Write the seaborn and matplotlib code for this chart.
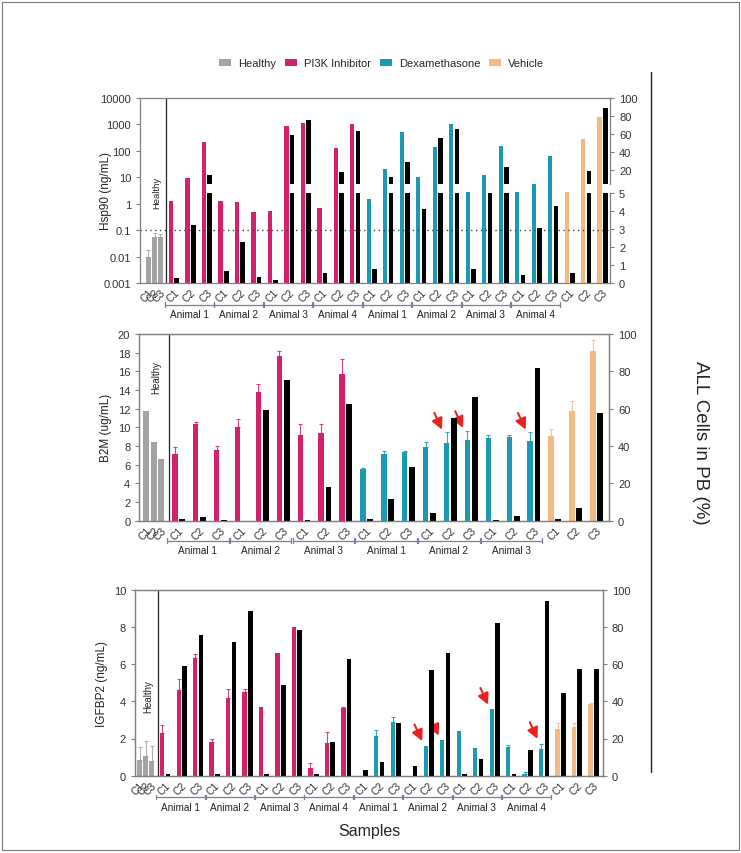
import matplotlib
matplotlib.use("Agg")
import matplotlib.pyplot as plt
from matplotlib.patches import Patch, Rectangle
from matplotlib.lines import Line2D
import numpy as np
import seaborn as sns

sns.set_theme(style="ticks")
plt.rcParams['font.family'] = ['Liberation Sans', 'DejaVu Sans']

# ---------------- data ----------------
treatments = ['Healthy', 'PI3K Inhibitor', 'Dexamethasone', 'Vehicle']
sample_labels = ['C1', 'C2', 'C3']

# Hsp90 (ng/mL), log axis; black bars = ALL cells in PB (%)
hsp_healthy = [0.010, 0.055, 0.055]
hsp_healthy_err = [0.008, 0.022, 0.015]
hsp_pi3k = [1.25, 9.5, 218, 1.32, 1.2, 0.48, 0.54, 870, 1100, 0.69, 133, 1070]
hsp_dex = [1.5, 20, 500, 10.7, 137, 1050, 2.75, 12.3, 155, 2.8, 5.6, 66]
hsp_veh = [2.8, 283, 1860]
hsp_all = [0.28, 3.2, 15, 0.67, 2.3, 0.35, 0.17, 59.6, 76, 0.57, 18.5, 63.6,
           0.76, 12.7, 29, 4.1, 55.3, 66, 0.76, 5.0, 23.6, 0.46, 3.07, 4.3,
           0.57, 19.6, 88.7]

# B2M (ug/mL)
b2m_healthy = [11.8, 8.46, 6.6]
b2m_pi3k = [7.18, 10.4, 7.6, 10.0, 13.8, 17.6, 9.18, 9.4, 15.75]
b2m_pi3k_err = [0.68, 0.2, 0.36, 0.86, 0.8, 0.6, 1.22, 1.0, 1.55]
b2m_dex = [5.5, 7.1, 7.39, 7.93, 8.29, 8.68, 8.82, 8.96, 8.5]
b2m_dex_err = [0.1, 0.33, 0.05, 0.47, 1.17, 0.96, 0.36, 0.24, 0.96]
b2m_veh = [9.1, 11.7, 18.2]
b2m_veh_err = [0.7, 1.1, 1.2]
b2m_all = [0.7, 2.1, 0.5, 0, 59.3, 75.5, 0.5, 17.9, 62.7,
           0.7, 11.6, 28.6, 4.1, 55.2, 66, 0.2, 2.5, 82,
           0.7, 6.6, 57.7]
b2m_arrows = [13, 14, 17]

# IGFBP2 (ng/mL)
igf_healthy = [0.86, 1.04, 0.77]
igf_healthy_err = [0.66, 0.81, 0.83]
igf_pi3k = [2.29, 4.59, 6.34, 1.79, 4.16, 4.52, 3.71, 6.61, 8.0, 0.41, 1.74, 3.62]
igf_pi3k_err = [0.41, 0.61, 0.22, 0.21, 0.5, 0.12, 0, 0, 0, 0.25, 0.59, 0.07]
igf_dex = [0, 2.11, 2.9, 0, 1.61, 1.91, 2.41, 1.48, 3.57, 1.55, 0.09, 1.46]
igf_dex_err = [0, 0.35, 0.24, 0, 0, 0, 0, 0, 0, 0.09, 0.09, 0.27]
igf_veh = [2.5, 2.64, 3.88]
igf_veh_err = [0.36, 0.22, 0.05]
igf_all = [0.7, 59, 75.5, 0.7, 72, 88.6, 0.9, 48.8, 78.2, 0.7, 17.9, 62.7,
           2.9, 7.5, 28.6, 5.4, 57, 66, 1.1, 8.9, 82, 1.1, 13.6, 94,
           44.6, 57.5, 57.5]
igf_arrows = [16, 17, 20, 23]

GREY = '#a3a3a6'
PINK = '#d3216c'
TEAL = '#1b9bb1'
PEACH = '#f2bb85'
BRACKET = '#7b7ba6'
SPINE = '#808080'
colors = [GREY, PINK, TEAL, PEACH]

HEALTHY_X = np.array([-1.55, -1.18, -0.82])
COL_OFF, BLK_OFF = -0.18, 0.17


def bars(ax, xs, ys, color, width):
    sns.barplot(x=np.asarray(xs, float), y=np.asarray(ys, float), native_scale=True,
                orient='x', width=width, color=color, saturation=1,
                errorbar=None, linewidth=0, ax=ax)


def errs(ax, xs, ys, es, color):
    xs, ys, es = np.asarray(xs, float), np.asarray(ys, float), np.asarray(es, float)
    m = es > 0
    if m.any():
        ax.errorbar(xs[m], ys[m], yerr=[np.zeros(m.sum()), es[m]], fmt='none',
                    ecolor=color, elinewidth=0.8, capsize=1.5, capthick=0.8, alpha=0.85)


def style(ax):
    for s in ax.spines.values():
        s.set_color(SPINE)
        s.set_linewidth(0.9)
    ax.tick_params(axis='y', colors=SPINE, labelcolor='#333333', labelsize=8,
                   length=3, width=0.8, direction='out')


def panel(ax, healthy, healthy_err, pi3k, pi3k_err, dex, dex_err, veh, veh_err,
          n_animals, xlim, healthy_y, healthy_fs, br_y, txt_y):
    n = 3 * n_animals
    xp = np.arange(n) + COL_OFF
    xd = np.arange(n, 2 * n) + COL_OFF
    xv = np.arange(2 * n, 2 * n + 3) + COL_OFF
    bars(ax, HEALTHY_X, healthy, GREY, 0.8)
    bars(ax, xp, pi3k, PINK, 0.26)
    bars(ax, xd, dex, TEAL, 0.26)
    bars(ax, xv, veh, PEACH, 0.26)
    if healthy_err is not None:
        errs(ax, HEALTHY_X, healthy, healthy_err, GREY)
    if pi3k_err is not None:
        errs(ax, xp, pi3k, pi3k_err, PINK)
        errs(ax, xd, dex, dex_err, TEAL)
        errs(ax, xv, veh, veh_err, PEACH)
    ax.axvline(-0.46, color='#222222', lw=0.9)
    ax.text(-1.05, healthy_y, 'Healthy', rotation=90, ha='center', va='center',
            fontsize=healthy_fs, color='#222222', transform=ax.get_xaxis_transform())
    ticks = list(HEALTHY_X) + list(np.arange(2 * n + 3))
    ax.set_xticks(ticks)
    ax.set_xticklabels(sample_labels * (len(ticks) // 3), rotation=45, ha='right',
                       rotation_mode='anchor', fontsize=7.5, color='#333333')
    ax.tick_params(axis='x', length=0, pad=3)
    ax.set_xlim(*xlim)
    ax.set_xlabel('')
    tr = ax.get_xaxis_transform()
    for g in range(2):
        for k in range(n_animals):
            s = g * n + 3 * k - 0.55
            e = g * n + 3 * k + 2.4
            ax.plot([s, e], [br_y, br_y], color=BRACKET, lw=0.9, transform=tr, clip_on=False)
            for xx in (s, e):
                ax.plot([xx, xx], [br_y - 0.012, br_y + 0.012], color=BRACKET, lw=0.9,
                        transform=tr, clip_on=False)
            ax.text((s + e) / 2, txt_y, f'Animal {k + 1}', ha='center', va='center',
                    fontsize=7.2, color='#222222', transform=tr)


def arrows(ax, idx, values, errors, n, dy):
    vals = np.asarray(values, float)
    ers = np.asarray(errors, float)
    for i in idx:
        j = i - n
        top = vals[j] + ers[j]
        ax.annotate('', xy=(i + COL_OFF - 0.22, top + dy), xytext=(-5.5, 12),
                    textcoords='offset points',
                    arrowprops=dict(arrowstyle='-|>,head_length=0.55,head_width=0.28',
                                    color='#e8231f', lw=1.5, shrinkA=0, shrinkB=0))


fig = plt.figure(figsize=(7.41, 8.54), dpi=100)

# ---------- top panel: Hsp90 ----------
rect_top = [140 / 741, 1 - 284 / 854, 470 / 741, 185 / 854]
ax1 = fig.add_axes(rect_top)
ax1.set_yscale('log')
ax1.set_ylim(0.001, 10000)
panel(ax1, hsp_healthy, hsp_healthy_err, hsp_pi3k, None, hsp_dex, None, hsp_veh, None,
      4, (-2.06, 26.45), 0.49, 6.8, -0.117, -0.17)
ax1.set_ylim(0.001, 10000)
ax1.yaxis.set_major_locator(matplotlib.ticker.FixedLocator([10.0 ** p for p in range(-3, 5)]))
ax1.yaxis.set_minor_locator(matplotlib.ticker.NullLocator())
ax1.set_yticklabels(['0.001', '0.01', '0.1', '1', '10', '100', '1000', '10000'])
ax1.axhline(0.1, ls=(0, (1, 2.5)), color='#444444', lw=1)
style(ax1)
ax1.spines['right'].set_visible(False)
ax1.set_ylabel('Hsp90 (ng/mL)', fontsize=8.5, color='#222222')
ax1.yaxis.set_label_coords(-0.06, 0.5)

rect_lo = [140 / 741, 1 - 284 / 854, 470 / 741, 90 / 854]
rect_hi = [140 / 741, 1 - 185 / 854, 470 / 741, 86 / 854]
for rect, lim, tks in [(rect_lo, (0, 5), [0, 1, 2, 3, 4, 5]),
                       (rect_hi, (5, 100), [20, 40, 60, 80, 100])]:
    axb = fig.add_axes(rect, sharex=ax1)
    axb.patch.set_alpha(0)
    bars(axb, np.arange(27) + BLK_OFF, hsp_all, 'black', 0.28)
    axb.set_ylim(*lim)
    axb.set_yticks(tks)
    axb.yaxis.tick_right()
    style(axb)
    for sp in ['left', 'top', 'bottom']:
        axb.spines[sp].set_visible(False)
    axb.tick_params(axis='x', bottom=False, labelbottom=False)
    axb.set_ylabel('')
    axb.set_xlabel('')
ax1.set_xlim(-2.06, 26.45)

# ---------- middle panel: B2M ----------
ax2 = fig.add_axes([139.3 / 741, 1 - 521.7 / 854, 469.7 / 741, 186.7 / 854])
panel(ax2, b2m_healthy, None, b2m_pi3k, b2m_pi3k_err, b2m_dex, b2m_dex_err,
      b2m_veh, b2m_veh_err, 3, (-1.88, 20.59), 0.77, 7, -0.107, -0.155)
ax2.set_ylim(0, 20)
ax2.set_yticks(range(0, 21, 2))
style(ax2)
ax2.set_ylabel('B2M (ug/mL)', fontsize=8.5, color='#222222')
ax2.yaxis.set_label_coords(-0.059, 0.5)
ax2r = ax2.twinx()
bars(ax2r, np.arange(21) + BLK_OFF, b2m_all, 'black', 0.28)
ax2r.set_ylim(0, 100)
ax2r.set_yticks(range(0, 101, 20))
style(ax2r)
ax2r.set_ylabel('')
ax2.set_xlim(-1.88, 20.59)
arrows(ax2, b2m_arrows, b2m_dex, b2m_dex_err, 9, 0.3)

# ---------- bottom panel: IGFBP2 ----------
ax3 = fig.add_axes([135 / 741, 1 - 776.7 / 854, 467.7 / 741, 186 / 854])
panel(ax3, igf_healthy, igf_healthy_err, igf_pi3k, igf_pi3k_err, igf_dex, igf_dex_err,
      igf_veh, igf_veh_err, 4, (-1.83, 26.56), 0.43, 7, -0.115, -0.17)
ax3.set_ylim(0, 10)
ax3.set_yticks(range(0, 11, 2))
style(ax3)
ax3.set_ylabel('IGFBP2 (ng/mL)', fontsize=8.5, color='#222222')
ax3.yaxis.set_label_coords(-0.057, 0.5)
ax3r = ax3.twinx()
bars(ax3r, np.arange(27) + BLK_OFF, igf_all, 'black', 0.28)
ax3r.set_ylim(0, 100)
ax3r.set_yticks(range(0, 101, 20))
style(ax3r)
ax3r.set_ylabel('')
ax3.set_xlim(-1.83, 26.56)
arrows(ax3, igf_arrows, igf_dex, igf_dex_err, 12, 0.25)

# ---------- figure decorations ----------
handles = [Patch(facecolor=c, edgecolor='none') for c in colors]
fig.legend(handles, treatments, loc='center', bbox_to_anchor=(0.515, 0.9245), ncol=4,
           frameon=False, fontsize=8, handlelength=1.1, handleheight=0.7,
           handletextpad=0.6, columnspacing=0.8)
fig.text(0.498, 0.026, 'Samples', fontsize=11.5, ha='center', va='center')
fig.text(0.945, 0.481, 'ALL Cells in PB (%)', rotation=270, ha='center', va='center',
         fontsize=13.5)
fig.add_artist(Line2D([0.8785, 0.8785], [0.095, 0.915], color='#222222', lw=1))
fig.add_artist(Rectangle((0.003, 0.003), 0.994, 0.994, transform=fig.transFigure,
                         fill=False, ec='#777777', lw=0.8))

fig.savefig('out.png', dpi=100)
